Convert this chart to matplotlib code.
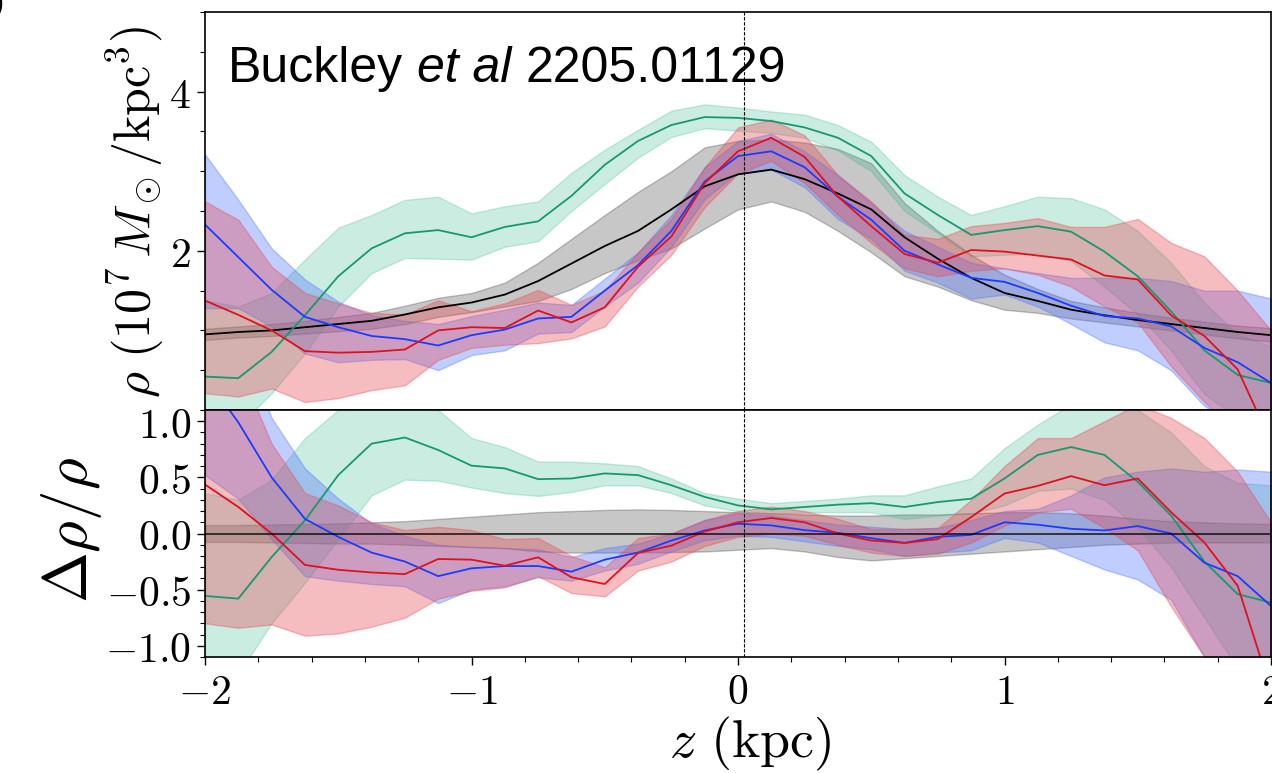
import numpy as np
import matplotlib.pyplot as plt
from matplotlib.ticker import MultipleLocator

plt.rcParams['mathtext.fontset'] = 'cm'
plt.rcParams['font.family'] = 'DejaVu Serif'

# height above the disk (kpc), bins of 0.125
z = np.linspace(-2, 2, 33)
z_sun = 0.0208

# ---- top panel: density (10^7 Msun / kpc^3) ----
black_mid = [0.95, 0.98, 1.00, 1.04, 1.08, 1.12, 1.20, 1.29, 1.35, 1.45, 1.62, 1.84, 2.06, 2.25, 2.52, 2.81, 2.96,
             3.02, 2.90, 2.72, 2.52, 2.17, 1.90, 1.66, 1.47, 1.37, 1.26, 1.19, 1.13, 1.08, 1.03, 0.98, 0.94]
black_lo = [0.88, 0.91, 0.93, 0.96, 0.99, 1.02, 1.08, 1.17, 1.23, 1.30, 1.37, 1.52, 1.72, 1.88, 2.03, 2.28, 2.52,
            2.62, 2.49, 2.25, 1.98, 1.68, 1.55, 1.38, 1.26, 1.22, 1.15, 1.10, 1.05, 1.00, 0.95, 0.90, 0.86]
black_hi = [1.02, 1.05, 1.08, 1.12, 1.17, 1.22, 1.31, 1.41, 1.47, 1.60, 1.85, 2.15, 2.45, 2.74, 3.00, 3.30, 3.38,
            3.40, 3.36, 3.28, 3.10, 2.60, 2.25, 1.95, 1.70, 1.52, 1.37, 1.29, 1.22, 1.16, 1.11, 1.06, 1.03]

green_mid = [0.42, 0.40, 0.73, 1.19, 1.68, 2.03, 2.22, 2.26, 2.17, 2.30, 2.37, 2.69, 3.08, 3.38, 3.58, 3.68, 3.67,
             3.63, 3.55, 3.42, 3.19, 2.72, 2.45, 2.20, 2.26, 2.31, 2.24, 1.99, 1.68, 1.24, 0.75, 0.44, 0.34]
green_lo = [-0.30, -0.20, 0.21, 0.71, 1.30, 1.72, 1.91, 1.90, 1.89, 2.05, 2.12, 2.50, 2.84, 3.17, 3.43, 3.54, 3.51,
            3.48, 3.42, 3.26, 3.00, 2.50, 2.22, 1.93, 1.95, 1.97, 1.87, 1.55, 1.20, 0.75, 0.20, -0.10, -0.20]
green_hi = [1.38, 1.30, 1.47, 1.89, 2.29, 2.45, 2.64, 2.68, 2.47, 2.56, 2.62, 2.98, 3.27, 3.52, 3.76, 3.84, 3.80,
            3.75, 3.71, 3.58, 3.37, 2.95, 2.68, 2.45, 2.56, 2.68, 2.66, 2.52, 2.25, 1.85, 1.35, 0.95, 0.80]

blue_mid = [2.33, 1.92, 1.51, 1.17, 1.04, 0.93, 0.89, 0.81, 0.94, 1.01, 1.15, 1.17, 1.50, 1.82, 2.25, 2.87, 3.19,
            3.25, 3.05, 2.68, 2.39, 2.00, 1.83, 1.66, 1.61, 1.47, 1.31, 1.18, 1.15, 1.05, 0.78, 0.60, 0.34]
blue_lo = [1.28, 1.28, 1.05, 0.71, 0.60, 0.63, 0.64, 0.50, 0.69, 0.75, 0.96, 0.98, 1.30, 1.60, 2.05, 2.65, 2.98,
           3.02, 2.80, 2.40, 2.15, 1.75, 1.60, 1.40, 1.45, 1.30, 1.08, 0.85, 0.75, 0.50, 0.05, -0.20, -0.40]
blue_hi = [3.21, 2.64, 2.03, 1.64, 1.36, 1.19, 1.12, 1.08, 1.18, 1.26, 1.35, 1.32, 1.65, 1.98, 2.45, 3.05, 3.38,
           3.47, 3.25, 2.95, 2.60, 2.25, 2.05, 1.85, 1.78, 1.72, 1.66, 1.66, 1.66, 1.62, 1.50, 1.50, 1.40]

red_mid = [1.375, 1.195, 1.00, 0.74, 0.72, 0.73, 0.76, 1.00, 1.04, 1.03, 1.25, 1.10, 1.29, 1.80, 2.18, 2.85, 3.25,
           3.42, 3.18, 2.68, 2.31, 1.96, 1.85, 2.01, 1.99, 1.94, 1.89, 1.69, 1.64, 1.19, 0.93, 0.51, -0.40]
red_lo = [0.21, 0.17, 0.27, 0.10, 0.15, 0.25, 0.31, 0.63, 0.78, 0.82, 0.84, 0.90, 1.05, 1.55, 1.95, 2.55, 2.97,
          3.13, 2.85, 2.45, 2.10, 1.78, 1.68, 1.75, 1.78, 1.70, 1.55, 1.30, 1.10, 0.55, 0.10, -0.30, -1.00]
red_hi = [2.62, 2.39, 1.80, 1.47, 1.34, 1.22, 1.20, 1.38, 1.24, 1.34, 1.51, 1.32, 1.50, 1.98, 2.40, 3.05, 3.55,
          3.65, 3.45, 2.95, 2.62, 2.20, 2.15, 2.31, 2.35, 2.41, 2.30, 2.30, 2.40, 2.10, 1.93, 1.50, 1.00]

# ---- bottom panel: relative residual ----
black_rel_mid = [0.0] * 33
black_rel_lo = [-0.075, -0.075, -0.08, -0.085, -0.09, -0.09, -0.10, -0.11, -0.12, -0.13, -0.16, -0.17, -0.17,
                -0.17, -0.165, -0.16, -0.145, -0.13, -0.16, -0.21, -0.24, -0.22, -0.20, -0.18, -0.16, -0.14,
                -0.12, -0.10, -0.09, -0.08, -0.08, -0.08, -0.08]
black_rel_hi = [0.075, 0.075, 0.08, 0.085, 0.09, 0.10, 0.11, 0.13, 0.15, 0.17, 0.19, 0.20, 0.21, 0.215, 0.21, 0.20,
                0.19, 0.18, 0.17, 0.16, 0.16, 0.17, 0.17, 0.18, 0.19, 0.19, 0.18, 0.16, 0.13, 0.11, 0.10, 0.09, 0.085]

green_rel_mid = [-0.556, -0.58, -0.21, 0.117, 0.52, 0.80, 0.855, 0.744, 0.604, 0.58, 0.484, 0.49, 0.535, 0.52, 0.43,
                 0.326, 0.25, 0.215, 0.236, 0.257, 0.27, 0.236, 0.28, 0.31, 0.49, 0.70, 0.77, 0.70, 0.46, 0.16,
                 -0.25, -0.54, -0.616]
green_rel_lo = [-1.3, -1.25, -0.8, -0.44, -0.05, 0.34, 0.48, 0.47, 0.41, 0.36, 0.335, 0.37, 0.43, 0.43, 0.36, 0.25,
                0.20, 0.175, 0.185, 0.19, 0.19, 0.13, 0.16, 0.18, 0.25, 0.38, 0.40, 0.30, 0.05, -0.3, -0.75, -1.2, -1.3]
green_rel_hi = [0.36, 0.30, 0.48, 0.85, 1.10, 1.30, 1.25, 1.10, 0.85, 0.77, 0.64, 0.64, 0.625, 0.60, 0.49, 0.36,
                0.31, 0.27, 0.29, 0.31, 0.34, 0.34, 0.42, 0.49, 0.76, 0.97, 1.15, 1.15, 1.10, 0.90, 0.60, 0.45, 0.43]

blue_rel_mid = [1.40, 0.99, 0.50, 0.13, -0.03, -0.17, -0.25, -0.38, -0.31, -0.29, -0.29, -0.34, -0.233, -0.17,
                -0.063, 0.027, 0.087, 0.072, 0.03, 0.006, -0.042, -0.084, -0.03, -0.012, 0.10, 0.078, 0.042, 0.027,
                0.066, 0.0, -0.26, -0.38, -0.646]
blue_rel_lo = [0.52, 0.31, -0.05, -0.38, -0.42, -0.45, -0.47, -0.62, -0.50, -0.47, -0.39, -0.42, -0.33, -0.27, -0.16,
               -0.06, -0.02, -0.03, -0.07, -0.11, -0.14, -0.20, -0.17, -0.15, -0.04, -0.08, -0.20, -0.32, -0.41, -0.59,
               -1.1, -1.3, -1.5]
blue_rel_hi = [2.3, 1.8, 1.03, 0.58, 0.31, 0.09, -0.02, -0.10, -0.12, -0.13, -0.14, -0.21, -0.13, -0.09, 0.0, 0.12,
               0.18, 0.16, 0.12, 0.08, 0.06, 0.04, 0.05, 0.12, 0.20, 0.22, 0.34, 0.50, 0.55, 0.58, 0.55, 0.57, 0.55]

red_rel_mid = [0.436, 0.236, 0.0, -0.28, -0.323, -0.347, -0.362, -0.227, -0.233, -0.287, -0.212, -0.39, -0.45,
               -0.173, -0.108, 0.018, 0.10, 0.138, 0.10, 0.0, -0.063, -0.084, -0.05, 0.146, 0.356, 0.424, 0.511,
               0.43, 0.49, 0.19, -0.08, -0.466, -1.4]
red_rel_lo = [-0.8, -0.84, -0.81, -0.91, -0.89, -0.83, -0.75, -0.58, -0.51, -0.48, -0.38, -0.53, -0.56, -0.33, -0.25,
              -0.11, -0.03, 0.0, -0.02, -0.10, -0.17, -0.20, -0.18, -0.08, 0.07, 0.19, 0.22, 0.05, -0.15, -0.65,
              -1.1, -1.4, -2.0]
red_rel_hi = [1.8, 1.5, 0.80, 0.36, 0.25, 0.10, 0.03, 0.06, 0.03, -0.05, -0.04, -0.2, -0.3, -0.04, 0.0, 0.12, 0.20,
              0.24, 0.20, 0.13, 0.04, 0.04, 0.05, 0.30, 0.60, 0.85, 0.85, 1.0, 1.15, 1.03, 0.85, 0.55, 0.10]

# tick labels
xticks = [-2, -1, 0, 1, 2]
xtick_labels = [r'$-2$', r'$-1$', r'$0$', r'$1$', r'$2$']
rho_ticks = [2, 4]
rho_tick_labels = [r'$2$', r'$4$']
res_ticks = [-1.0, -0.5, 0.0, 0.5, 1.0]
res_tick_labels = [r'$-1.0$', r'$-0.5$', r'$0.0$', r'$0.5$', r'$1.0$']

# (line colour, fill colour, fill alpha)
styles = {
    'black': ('black', 'black', 0.22),
    'green': ('#17996f', '#2fb58a', 0.25),
    'blue': ('#1a3cff', '#4c72ff', 0.35),
    'red': ('#e0101e', '#e8444f', 0.35),
}

W, H = 1272, 773
fig = plt.figure(figsize=(W / 100, H / 100), dpi=100)
ax1 = fig.add_axes([205 / W, 1 - 410 / H, 1066 / W, 398 / H])
ax2 = fig.add_axes([205 / W, 1 - 657 / H, 1066 / W, 247 / H], sharex=ax1)


def draw(ax, name, mid, lo, hi, line=True):
    lc, fc, a = styles[name]
    ax.fill_between(z, lo, hi, color=fc, alpha=a, lw=1)
    if line:
        ax.plot(z, mid, color=lc, lw=1.3)


draw(ax1, 'black', black_mid, black_lo, black_hi)
draw(ax1, 'green', green_mid, green_lo, green_hi)
draw(ax1, 'blue', blue_mid, blue_lo, blue_hi)
draw(ax1, 'red', red_mid, red_lo, red_hi)

draw(ax2, 'black', black_rel_mid, black_rel_lo, black_rel_hi, line=False)
draw(ax2, 'green', green_rel_mid, green_rel_lo, green_rel_hi)
draw(ax2, 'blue', blue_rel_mid, blue_rel_lo, blue_rel_hi)
draw(ax2, 'red', red_rel_mid, red_rel_lo, red_rel_hi)
ax2.plot(z, black_rel_mid, color='black', lw=1.4, alpha=0.7)

for ax in (ax1, ax2):
    ax.axvline(z_sun, color='black', lw=0.8, ls=(0, (3, 1.5)))
    for sp in ax.spines.values():
        sp.set_linewidth(1.2)
    ax.tick_params(which='major', direction='out', length=6, width=1.0, labelsize=30, pad=4)
    ax.tick_params(which='minor', direction='out', length=3.5, width=0.8)

ax1.set_xlim(-2, 2)
ax1.set_ylim(0, 5)
ax1.set_yticks(rho_ticks, labels=rho_tick_labels)
ax1.yaxis.set_minor_locator(MultipleLocator(0.5))
ax1.tick_params(axis='x', which='both', bottom=False, labelbottom=False)

ax2.set_ylim(-1.1, 1.1)
ax2.set_yticks(res_ticks, labels=res_tick_labels)
ax2.yaxis.set_minor_locator(MultipleLocator(0.1))
ax2.set_xticks(xticks, labels=xtick_labels)
ax2.xaxis.set_minor_locator(MultipleLocator(0.2))
ax2.tick_params(axis='x', which='major', pad=4)

# axis labels
fig.text(135 / W, 1 - 212 / H, r'$\rho\ (10^7\,M_\odot/\mathrm{kpc}^3)$', rotation=90,
         ha='center', va='center', fontsize=36)
fig.text(72 / W, 1 - 530 / H, r'$\Delta\rho/\rho$', rotation=90, ha='center', va='center', fontsize=44)
fig.text(750 / W, 1 - 757 / H, r'$z\ (\mathrm{kpc})$', ha='center', va='baseline', fontsize=39)

# citation, written in three pieces so "et al" can be italic
renderer = fig.canvas.get_renderer()
fs = 36
space = 0.278 * fs * 100 / 72
x0, yb = 228, 1 - 82 / H
t1 = fig.text(x0 / W, yb, 'Buckley', fontsize=fs, family='Liberation Sans', va='baseline')
x1 = t1.get_window_extent(renderer).x1 + space
t2 = fig.text(x1 / W, yb, 'et al', fontsize=fs, family='Liberation Sans', style='italic', va='baseline')
x2 = t2.get_window_extent(renderer).x1 + space
fig.text(x2 / W, yb, '2205.01129', fontsize=fs, family='Liberation Sans', va='baseline')

# leftover of the panel letter, cut by the figure edge
fig.text(-0.002, 0.995, ')', fontsize=26, ha='center', va='center')

fig.savefig('out.png', dpi=100)
